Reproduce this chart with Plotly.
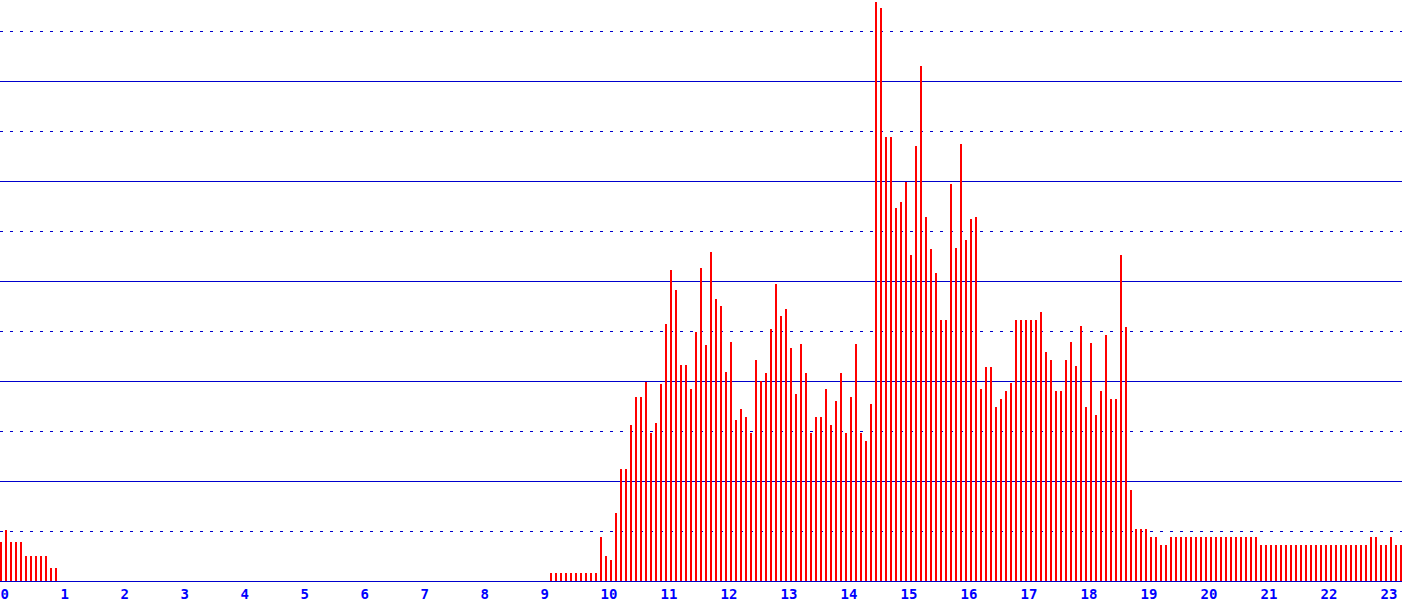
import plotly.graph_objects as go

# Counts per 5-minute slot, one row per hour (12 slots each)
h00 = [39, 51, 39, 39, 39, 25, 25, 25, 25, 25, 13, 13]
h01 = [0, 0, 0, 0, 0, 0, 0, 0, 0, 0, 0, 0]
h02 = [0, 0, 0, 0, 0, 0, 0, 0, 0, 0, 0, 0]
h03 = [0, 0, 0, 0, 0, 0, 0, 0, 0, 0, 0, 0]
h04 = [0, 0, 0, 0, 0, 0, 0, 0, 0, 0, 0, 0]
h05 = [0, 0, 0, 0, 0, 0, 0, 0, 0, 0, 0, 0]
h06 = [0, 0, 0, 0, 0, 0, 0, 0, 0, 0, 0, 0]
h07 = [0, 0, 0, 0, 0, 0, 0, 0, 0, 0, 0, 0]
h08 = [0, 0, 0, 0, 0, 0, 0, 0, 0, 0, 0, 0]
h09 = [0, 0, 8, 8, 8, 8, 8, 8, 8, 8, 8, 8]
h10 = [44, 25, 21, 68, 112, 112, 156, 184, 184, 199, 148, 158]
h11 = [197, 257, 311, 291, 216, 216, 192, 249, 313, 236, 329, 282]
h12 = [275, 209, 239, 161, 172, 164, 148, 221, 200, 208, 252, 297]
h13 = [265, 272, 233, 187, 237, 208, 148, 164, 164, 192, 156, 180]
h14 = [208, 148, 184, 237, 148, 140, 177, 579, 573, 444, 444, 373]
h15 = [379, 399, 326, 435, 515, 364, 332, 308, 261, 261, 397, 333]
h16 = [437, 341, 362, 364, 192, 214, 214, 174, 182, 190, 198, 261]
h17 = [261, 261, 261, 261, 269, 229, 221, 190, 190, 221, 239, 215]
h18 = [255, 174, 238, 166, 190, 246, 182, 182, 326, 254, 91, 52]
h19 = [52, 52, 44, 44, 36, 36, 44, 44, 44, 44, 44, 44]
h20 = [44, 44, 44, 44, 44, 44, 44, 44, 44, 44, 44, 44]
h21 = [36, 36, 36, 36, 36, 36, 36, 36, 36, 36, 36, 36]
h22 = [36, 36, 36, 36, 36, 36, 36, 36, 36, 36, 44, 44]
h23 = [36, 36, 44, 36, 36]

hour_labels = [str(h) for h in range(24)]

hours = [h00, h01, h02, h03, h04, h05, h06, h07, h08, h09, h10, h11,
         h12, h13, h14, h15, h16, h17, h18, h19, h20, h21, h22, h23]
counts = [v for row in hours for v in row]
slots = list(range(len(counts)))  # 5-minute slot index

fig = go.Figure(
    go.Bar(
        x=slots,
        y=counts,
        width=0.4,
        marker=dict(color="#FF0000", line=dict(width=0)),
        hovertemplate="%{x}: %{y}<extra></extra>",
    )
)

fig.update_layout(
    width=1402,
    height=601,
    margin=dict(l=0, r=0, t=0, b=20, pad=0, autoexpand=False),
    paper_bgcolor="white",
    plot_bgcolor="white",
    showlegend=False,
    bargap=0,
)

fig.update_xaxes(
    range=[-0.2, 280.2],
    tickmode="array",
    tickvals=[12 * h - 0.2 for h in range(24)],
    ticktext=hour_labels,
    ticklabelposition="outside right",
    ticks="",
    automargin=False,
    showgrid=False,
    zeroline=False,
    showline=True,
    linecolor="#0000CC",
    linewidth=1,
    tickfont=dict(family="DejaVu Sans Mono", size=14, color="#0000FF", weight="bold"),
)

fig.update_yaxes(
    range=[0, 581],
    tick0=0,
    dtick=100,
    showticklabels=False,
    ticks="",
    automargin=False,
    showgrid=True,
    gridcolor="#0000CC",
    gridwidth=1,
    zeroline=False,
    minor=dict(tick0=0, dtick=50, showgrid=True, gridcolor="#0000CC",
               gridwidth=1, griddash="3px,7px"),
)

fig.write_html(
    "out.html",
    config={"displayModeBar": False},
    post_script="document.body.style.margin='0';document.body.style.overflow='hidden';",
)
